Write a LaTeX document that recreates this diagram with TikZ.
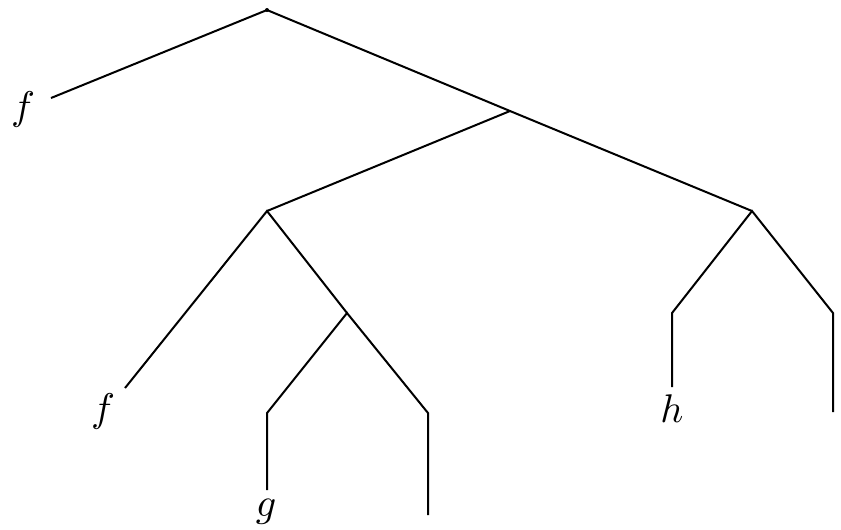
\documentclass[tikz,border=0pt]{standalone}
\begin{document}
\begin{tikzpicture}[x=0.25pt,y=-0.25pt,
  edge/.style={line width=0.5pt},
  leaf/.style={inner sep=0pt}]
\useasboundingbox (0,0) rectangle (841,529);
\coordinate (r) at (267,10);
\coordinate (a) at (510,111);
\coordinate (b) at (267,211);
\coordinate (c) at (752,211);
\coordinate (d) at (347,313);
\coordinate (e) at (267,413);
\coordinate (k) at (428,413);
\coordinate (m) at (672,313);
\coordinate (n) at (833,313);
\coordinate (f1e) at (51,98);
\coordinate (f2e) at (125,388);
\coordinate (ge) at (267,490);
\coordinate (ke) at (428,515);
\coordinate (he) at (672,387);
\coordinate (ne) at (833,412);
\node[leaf] (f1) at (23,109) {$f$};
\node[leaf] (f2) at (103,411) {$f$};
\node[leaf] (g) at (266,512) {$g$};
\node[leaf] (h) at (672,409) {$h$};
\fill (r) circle (2);
\draw[edge] (f1e) -- (r) -- (a) -- (c);
\draw[edge] (a) -- (b);
\draw[edge] (f2e) -- (b) -- (d);
\draw[edge] (ge) -- (e) -- (d) -- (k) -- (ke);
\draw[edge] (he) -- (m) -- (c) -- (n) -- (ne);
\end{tikzpicture}
\end{document}
